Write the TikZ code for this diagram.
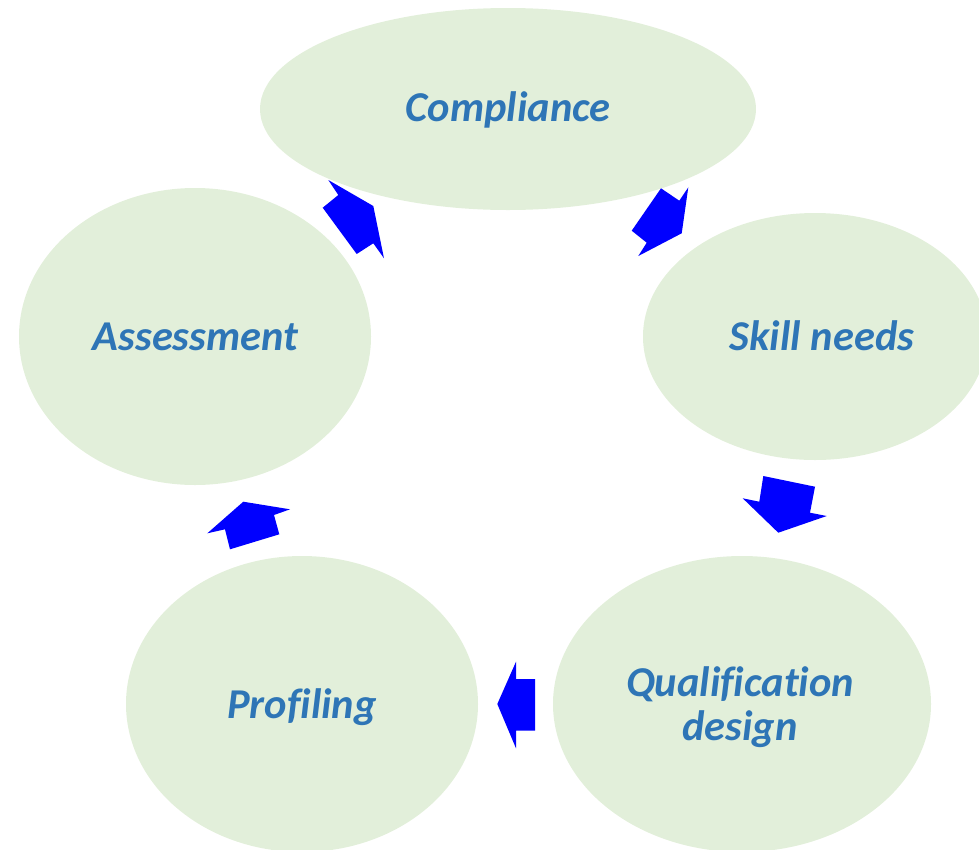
\documentclass[tikz,border=0pt]{standalone}
\usepackage{fontspec}
\setmainfont{Carlito}[Ligatures=NoCommon]
\usetikzlibrary{shapes.geometric}
\definecolor{blobfill}{HTML}{E2EFDA}
\definecolor{lbltext}{HTML}{2E75B6}
\definecolor{arrowblue}{HTML}{0000FF}
\tikzset{
  blob/.style={ellipse, fill=blobfill, draw=none, inner sep=0pt},
  lbl/.style={text=lbltext, font=\fontsize{42.5}{44}\selectfont\bfseries\itshape, inner sep=0pt, anchor=base, align=center},
  blockarrow/.style={fill=arrowblue, draw=none}
}
\begin{document}
\begin{tikzpicture}[x=1pt,y=-1pt]
\useasboundingbox (0,0) rectangle (979,849);
\clip (0,0) rectangle (979,849);
% ellipses
\node[blob, minimum width=496pt, minimum height=202pt] (comp) at (508,109) {};
\node[blob, minimum width=344pt, minimum height=247pt] (skill) at (815,336.5) {};
\node[blob, minimum width=352pt, minimum height=297pt] (assess) at (195,336.5) {};
\node[blob, minimum width=352pt, minimum height=296pt] (prof) at (302,704) {};
\node[blob, minimum width=378pt, minimum height=296pt] (qual) at (742,704) {};
% labels
\node[lbl] (tcomp) at (508,121) {Compliance};
\node[lbl] (tskill) at (822,350) {Skill needs};
\node[lbl] (tassess) at (195.5,350) {Assessment};
\node[lbl] (tprof) at (302,718) {Profiling};
\node[lbl] (tqual) at (740,740) {Qualification\\design};
% arrows
\fill[blockarrow] (322.7,207.7) -- (338.3,195) -- (328.3,180) -- (373.3,206) -- (384,258.3) -- (373.3,243.3) -- (356.7,254) -- cycle;
\fill[blockarrow] (661,188.3) -- (679.3,200.7) -- (688.3,187.3) -- (681.7,233.3) -- (638.3,256) -- (646.7,242.7) -- (631.7,230.7) -- cycle;
\fill[blockarrow] (763.3,476) -- (815,486.7) -- (810,512.7) -- (826.7,516) -- (778.3,532.7) -- (742.7,498.3) -- (759.3,501.7) -- cycle;
\fill[blockarrow] (535,679) -- (535,730.7) -- (516,730.7) -- (516,748.3) -- (497.3,704) -- (516,661.7) -- (516,679) -- cycle;
\fill[blockarrow] (243.3,501.7) -- (290,509.3) -- (274,515) -- (279.3,534.3) -- (230,549.3) -- (225,529.3) -- (207.3,533.3) -- cycle;
\end{tikzpicture}
\end{document}
